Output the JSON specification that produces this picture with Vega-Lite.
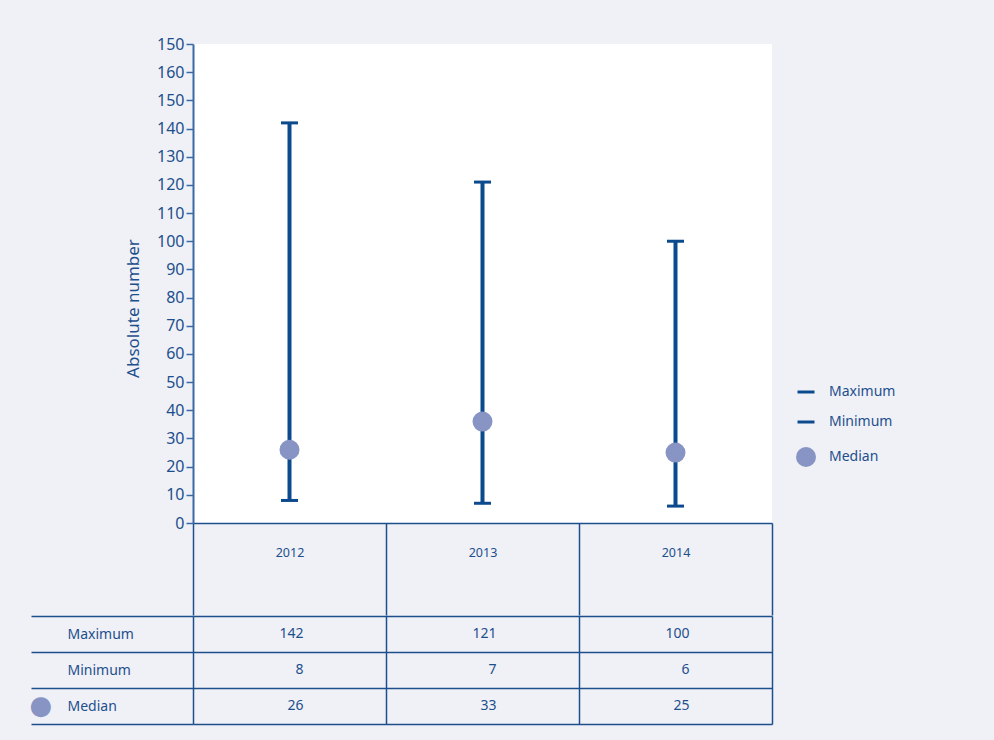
{
  "$schema": "https://vega.github.io/schema/vega-lite/v6.json",
  "background": "#f0f1f7",
  "padding": {"left": 29, "top": 36, "right": 103, "bottom": 15},
  "config": {
    "font": "Noto Sans",
    "view": {"stroke": null},
    "axis": {"labelColor": "#1d4f8c", "titleColor": "#1d4f8c"}
  },
  "datasets": {
    "chart": [
      {"year": "2012", "Maximum": 142, "Minimum": 8, "Median": 26},
      {"year": "2013", "Maximum": 121, "Minimum": 7, "Median": 36},
      {"year": "2014", "Maximum": 100, "Minimum": 6, "Median": 25}
    ],
    "table": [
      {"year": "2012", "row": "Maximum", "value": "142"},
      {"year": "2012", "row": "Minimum", "value": "8"},
      {"year": "2012", "row": "Median", "value": "26"},
      {"year": "2013", "row": "Maximum", "value": "121"},
      {"year": "2013", "row": "Minimum", "value": "7"},
      {"year": "2013", "row": "Median", "value": "33"},
      {"year": "2014", "row": "Maximum", "value": "100"},
      {"year": "2014", "row": "Minimum", "value": "6"},
      {"year": "2014", "row": "Median", "value": "25"}
    ]
  },
  "spacing": -8,
  "vconcat": [
    {
      "width": 579,
      "height": 479,
      "view": {"fill": "white", "stroke": null},
      "data": {"name": "chart"},
      "encoding": {
        "x": {
          "field": "year",
          "type": "nominal",
          "scale": {"paddingInner": 0, "paddingOuter": 0},
          "axis": {
            "title": null,
            "labelAngle": 0,
            "tickBand": "extent",
            "tickSize": 92,
            "tickColor": "#1d4f8c",
            "tickWidth": 1.5,
            "domainColor": "#1d4f8c",
            "domainWidth": 1.5,
            "labelPadding": -63,
            "labelBaseline": "middle",
            "labelFontSize": 12.5
          }
        }
      },
      "layer": [
        {
          "mark": {"type": "rule", "strokeWidth": 4, "color": "#0c4a8e"},
          "encoding": {
            "y": {
              "field": "Minimum",
              "type": "quantitative",
              "scale": {"domain": [0, 170], "nice": false},
              "axis": {
                "title": "Absolute number",
                "titleFontSize": 17,
                "titleFontWeight": "normal",
                "titlePadding": 14,
                "titleY": 264,
                "values": [0, 10, 20, 30, 40, 50, 60, 70, 80, 90, 100, 110, 120, 130, 140, 150, 160, 170],
                "labelExpr": "datum.value == 170 ? '150' : datum.label",
                "labelOverlap": false,
                "labelFontSize": 16,
                "labelPadding": 2,
                "tickSize": 7,
                "tickWidth": 1.5,
                "tickColor": "#3a6aa6",
                "domainColor": "#3a6aa6",
                "domainWidth": 2,
                "grid": false
              }
            },
            "y2": {"field": "Maximum"}
          }
        },
        {
          "transform": [{"fold": ["Maximum", "Minimum", "Median"], "as": ["measure", "value"]}],
          "mark": {"type": "point", "strokeWidth": 3, "opacity": 1},
          "encoding": {
            "y": {
              "field": "value",
              "type": "quantitative",
              "axis": {
                "title": "Absolute number",
                "titleFontSize": 17,
                "titleFontWeight": "normal",
                "titlePadding": 14,
                "titleY": 264,
                "values": [0, 10, 20, 30, 40, 50, 60, 70, 80, 90, 100, 110, 120, 130, 140, 150, 160, 170],
                "labelExpr": "datum.value == 170 ? '150' : datum.label",
                "labelOverlap": false,
                "labelFontSize": 16,
                "labelPadding": 2,
                "tickSize": 7,
                "tickWidth": 1.5,
                "tickColor": "#3a6aa6",
                "domainColor": "#3a6aa6",
                "domainWidth": 2,
                "grid": false
              }
            },
            "shape": {
              "field": "measure", "type": "nominal",
              "scale": {"domain": ["Maximum", "Minimum", "Median"], "range": ["stroke", "stroke", "circle"]},
              "legend": {
                "title": null,
                "orient": "none",
                "legendX": 603,
                "legendY": 338,
                "labelFontSize": 14,
                "labelColor": "#1d4f8c",
                "rowPadding": 13,
                "labelOffset": 13,
                "symbolStrokeWidth": 3
              }
            },
            "fill": {
              "field": "measure", "type": "nominal",
              "scale": {"domain": ["Maximum", "Minimum", "Median"], "range": ["#0c4a8e", "#0c4a8e", "#8794c4"]}
            },
            "stroke": {
              "field": "measure", "type": "nominal",
              "scale": {"domain": ["Maximum", "Minimum", "Median"], "range": ["#0c4a8e", "#0c4a8e", "#8794c4"]}
            },
            "size": {
              "field": "measure", "type": "nominal",
              "scale": {"domain": ["Maximum", "Minimum", "Median"], "range": [289, 289, 230]}
            }
          }
        }
      ]
    },
    {
      "width": 579,
      "height": 108,
      "data": {"name": "table"},
      "encoding": {
        "y": {
          "field": "row",
          "type": "nominal",
          "sort": ["Maximum", "Minimum", "Median"],
          "scale": {"paddingInner": 0, "paddingOuter": 0}
        }
      },
      "layer": [
        {
          "mark": {"type": "text", "align": "right", "dx": 14, "fontSize": 14, "color": "#1d4f8c", "baseline": "middle"},
          "encoding": {
            "x": {
              "field": "year", "type": "nominal",
              "scale": {"paddingInner": 0, "paddingOuter": 0},
              "axis": {
                "title": null, "labels": false, "ticks": false, "domain": false,
                "grid": true, "tickBand": "extent", "gridColor": "#1d4f8c", "gridWidth": 1.5, "gridOpacity": 1
              }
            },
            "y": {
              "field": "row", "type": "nominal",
              "sort": ["Maximum", "Minimum", "Median"],
              "axis": {
                "title": null,
                "domain": false,
                "grid": true,
                "gridColor": "#1d4f8c",
                "gridWidth": 1.5,
                "gridOpacity": 1,
                "tickBand": "extent",
                "ticks": true,
                "tickSize": 162,
                "tickColor": "#1d4f8c",
                "tickWidth": 1.5,
                "labelAlign": "left",
                "labelPadding": -36,
                "labelFontSize": 14,
                "labelBaseline": "middle"
              }
            },
            "text": {"field": "value"}
          }
        },
        {
          "mark": {"type": "text", "opacity": 0},
          "encoding": {
            "x": {"field": "year", "type": "nominal"},
            "y": {
              "field": "row", "type": "nominal",
              "sort": ["Maximum", "Minimum", "Median"],
              "axis": {
                "orient": "left",
                "title": null,
                "domain": false,
                "grid": false,
                "ticks": false,
                "labelExpr": "datum.value == 'Median' ? '●' : ''",
                "labelFont": "DejaVu Sans",
                "labelFontSize": 26,
                "labelColor": "#8794c4",
                "labelAlign": "left",
                "labelPadding": 164,
                "labelBaseline": "middle"
              }
            },
            "text": {"value": ""}
          }
        }
      ],
      "resolve": {"axis": {"y": "independent"}}
    }
  ]
}
